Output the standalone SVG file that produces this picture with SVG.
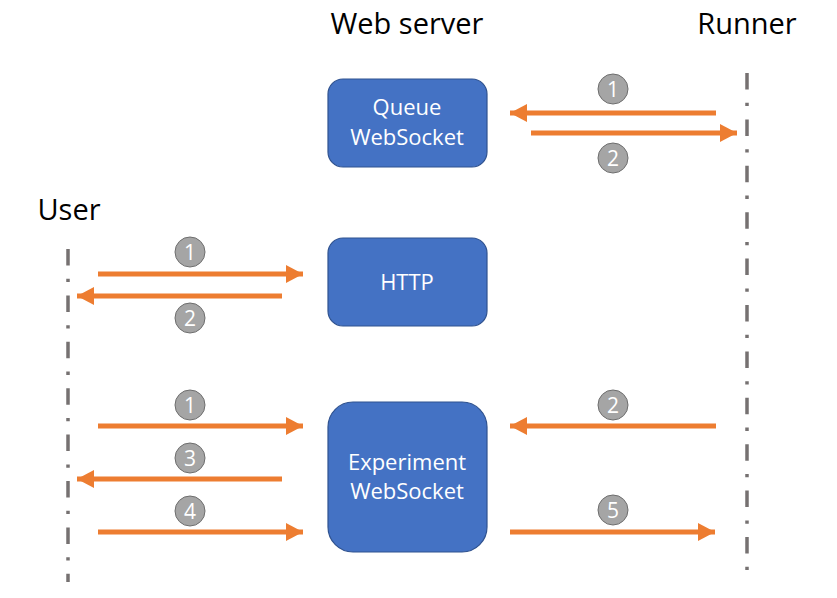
<svg xmlns="http://www.w3.org/2000/svg" width="837" height="598" viewBox="0 0 837 598">
<style>
.title{font-family:"Open Sans","Noto Sans","Liberation Sans",sans-serif;font-size:29px;fill:#000;text-anchor:middle}
.box{fill:#4472C4;stroke:#2F528F;stroke-width:1.2}
.bt{font-family:"Open Sans","Noto Sans","Liberation Sans",sans-serif;font-size:22px;fill:#fff;text-anchor:middle}
.life{stroke:#767171;stroke-width:3.5;stroke-dasharray:16.5 13.3 3.3 13.3;fill:none}
.arr{stroke:#ED7D31;stroke-width:5;fill:none}
.num{fill:#A5A5A5;stroke:#6E6E6E;stroke-width:1}
.nt{font-family:"Open Sans","Noto Sans","Liberation Sans",sans-serif;font-size:21px;fill:#fff;text-anchor:middle}
</style>
<defs>
<marker id="ah" markerUnits="userSpaceOnUse" markerWidth="18" markerHeight="18" refX="17" refY="9" orient="auto">
<path d="M0,0 L17,9 L0,18 Z" fill="#ED7D31"/>
</marker>
</defs>
<rect width="837" height="598" fill="#fff"/>
<g id="lifelines">
<line class="life" x1="68" y1="249" x2="68" y2="582"/>
<line class="life" x1="747" y1="73" x2="747" y2="580"/>
</g>
<g id="titles">
<text class="title" x="407" y="34">Web server</text>
<text class="title" x="747" y="34">Runner</text>
<text class="title" x="69" y="220">User</text>
</g>
<g id="queue">
<rect class="box" x="328" y="79" width="159" height="88" rx="15"/>
<text class="bt" x="407" y="115">Queue</text>
<text class="bt" x="407" y="145">WebSocket</text>
</g>
<g id="http">
<rect class="box" x="328" y="238" width="159" height="88" rx="15"/>
<text class="bt" x="407" y="290">HTTP</text>
</g>
<g id="experiment">
<rect class="box" x="328" y="402" width="159" height="150" rx="25"/>
<text class="bt" x="407" y="470">Experiment</text>
<text class="bt" x="407" y="499">WebSocket</text>
</g>
<g id="connectors">
<line class="arr" x1="716" y1="113" x2="510" y2="113" marker-end="url(#ah)"/>
<line class="arr" x1="531" y1="133" x2="737" y2="133" marker-end="url(#ah)"/>
<line class="arr" x1="98" y1="274" x2="303" y2="274" marker-end="url(#ah)"/>
<line class="arr" x1="282" y1="296" x2="77" y2="296" marker-end="url(#ah)"/>
<line class="arr" x1="98" y1="426" x2="303" y2="426" marker-end="url(#ah)"/>
<line class="arr" x1="282" y1="479" x2="77" y2="479" marker-end="url(#ah)"/>
<line class="arr" x1="98" y1="532" x2="303" y2="532" marker-end="url(#ah)"/>
<line class="arr" x1="716" y1="426" x2="510" y2="426" marker-end="url(#ah)"/>
<line class="arr" x1="510" y1="532" x2="715" y2="532" marker-end="url(#ah)"/>
</g>
<g id="badges">
<circle class="num" cx="613" cy="89" r="15"/><text class="nt" x="613" y="96.5">1</text>
<circle class="num" cx="613" cy="158" r="15"/><text class="nt" x="613" y="165.5">2</text>
<circle class="num" cx="190" cy="252" r="15"/><text class="nt" x="190" y="259.5">1</text>
<circle class="num" cx="190" cy="318" r="15"/><text class="nt" x="190" y="325.5">2</text>
<circle class="num" cx="190" cy="405" r="15"/><text class="nt" x="190" y="412.5">1</text>
<circle class="num" cx="190" cy="458" r="15"/><text class="nt" x="190" y="465.5">3</text>
<circle class="num" cx="190" cy="511" r="15"/><text class="nt" x="190" y="518.5">4</text>
<circle class="num" cx="613" cy="405" r="15"/><text class="nt" x="613" y="412.5">2</text>
<circle class="num" cx="613" cy="510" r="15"/><text class="nt" x="613" y="517.5">5</text>
</g>
</svg>
